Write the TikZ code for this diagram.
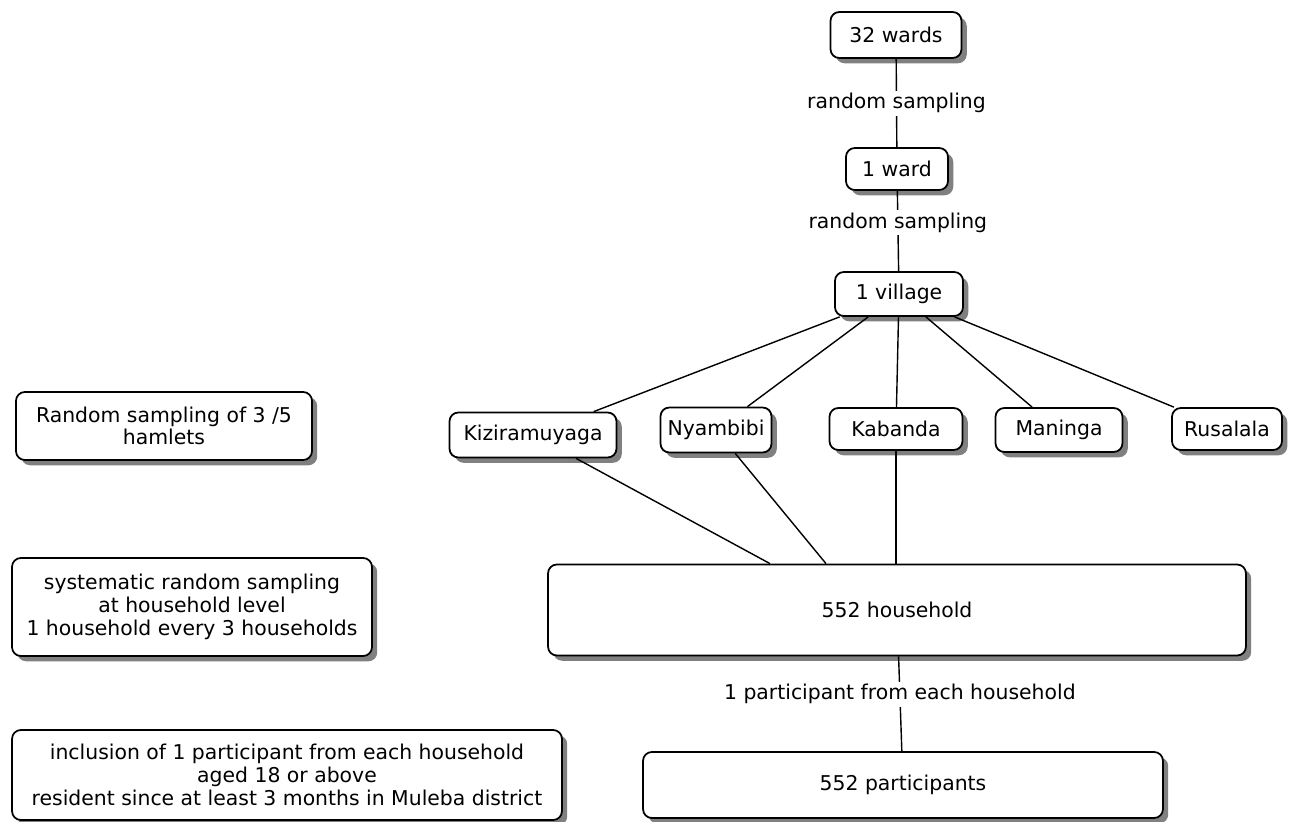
\documentclass[tikz,border=0pt]{standalone}
\usepackage{fontspec}
\setmainfont{DejaVu Sans}
\usetikzlibrary{shadows}

\tikzset{
  stage/.style={draw, line width=1pt, rounded corners=5pt, fill=white, align=center,
    drop shadow={shadow xshift=3pt, shadow yshift=-3pt, fill=black!50, opacity=1}},
  link/.style={line width=0.8pt},
  lbl/.style={fill=white, inner sep=1.5pt}
}

\begin{document}
\begin{tikzpicture}[x=0.02cm, y=-0.02cm, font=\fontsize{11.6pt}{12.9pt}\selectfont]
        \useasboundingbox (0,0) rectangle (1296,822);

        % the sampling chain
        \node[stage, minimum width=2.62cm, minimum height=0.92cm] (wards) at (896,35) {32 wards};
        \node[stage, minimum width=2.04cm, minimum height=0.84cm] (ward) at (897,169) {1 ward};
        \node[stage, minimum width=2.56cm, minimum height=0.88cm] (village) at (899,294) {1 village};

        % the hamlets
        \node[stage, minimum width=3.34cm, minimum height=0.9cm] (kizi) at (533,435) {Kiziramuyaga};
        \node[stage, minimum width=2.22cm, minimum height=0.9cm] (nyam) at (716,430) {Nyambibi};
        \node[stage, minimum width=2.66cm, minimum height=0.84cm] (kaba) at (896,429) {Kabanda};
        \node[stage, minimum width=2.54cm, minimum height=0.88cm] (mani) at (1059,430) {Maninga};
        \node[stage, minimum width=2.2cm, minimum height=0.84cm] (rusa) at (1227,429) {Rusalala};

        \node[stage, minimum width=13.96cm, minimum height=1.82cm] (house) at (897,610) {552 household};
        \node[stage, minimum width=10.4cm, minimum height=1.32cm] (part) at (903,785) {552 participants};

        % the notes on the left
        \node[stage, minimum width=5.92cm, minimum height=1.36cm] (note1) at (164,426)
                {Random sampling of 3 /5\\hamlets};
        \node[stage, minimum width=7.2cm, minimum height=1.96cm] (note2) at (192,607)
                {systematic random sampling\\at household level\\1 household every 3 households};
        \node[stage, minimum width=11.0cm, minimum height=1.8cm] (note3) at (287,775)
                {inclusion of 1 participant from each household\\aged 18 or above\\resident since at least 3 months in Muleba district};

        % draw the links
        \draw[link] (wards) -- node[lbl] {random sampling} (ward);
        \draw[link] (ward) -- node[lbl, pos=0.4] {random sampling} (village);
        \foreach \h in {kizi,nyam,kaba,mani,rusa}
                \draw[link] (village) -- (\h);
        \draw[link] (kizi) -- ([xshift=-2.54cm]house.north);
        \draw[link] (nyam) -- ([xshift=-1.42cm]house.north);
        \draw[link] (kaba) -- (kaba |- house.north);
        \draw[link] (house) -- node[lbl, pos=0.4] {1 participant from each household} (part);
\end{tikzpicture}
\end{document}
